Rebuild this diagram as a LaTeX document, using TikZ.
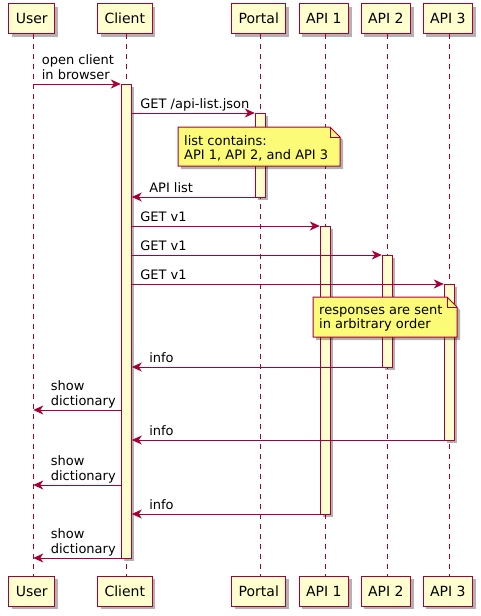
\documentclass[tikz,border=0pt]{standalone}
\usepackage{fontspec}
\setmainfont{DejaVu Sans}
\usetikzlibrary{arrows.meta,shadows}
\definecolor{umlred}{HTML}{A80036}
\definecolor{umlcream}{HTML}{FEFECE}
\definecolor{umlnote}{HTML}{FBFB77}

\begin{document}
\begin{tikzpicture}[
  x=1pt, y=-1pt,
  every node/.append style={font=\fontsize{13}{14.5}\selectfont},
  boxshadow/.style={drop shadow={shadow xshift=3pt, shadow yshift=-3pt,
    opacity=0.3, fill=black}},
  actor/.style={draw=umlred, fill=umlcream, line width=1pt, minimum height=30pt,
    inner xsep=7pt, inner ysep=0pt, font=\fontsize{14}{16}\selectfont, boxshadow},
  life/.style={draw=umlred, line width=1pt, dash pattern=on 5pt off 5pt},
  actbar/.style={draw=umlred, fill=umlcream, line width=1pt, minimum width=10pt,
    inner sep=0pt, boxshadow},
  msg/.style={draw=umlred, line width=1pt,
    -{Stealth[length=10pt, width=9pt, inset=3pt]}},
  msgtext/.style={anchor=base west, inner sep=0pt, align=left},
  note/.style={draw=umlred, fill=umlnote, line width=1pt},
  notetext/.style={anchor=north west, inner sep=0pt, align=left},
]
\useasboundingbox (0,0) rectangle (481,616);

% ------------------------------------------------------ the participants
% Same box at the head and at the foot, dashed lifeline between them.
% The boxes sit a little left of their lifeline, as in the original.
\foreach \who/\x/\txt in {user/33.3/User, client/126.3/Client,
    portal/260.3/Portal, apione/325.3/API 1, apitwo/387.3/API 2,
    apithree/449.3/API 3}{
  \coordinate (\who-line) at (\x,0);
  \node[actor] (\who-top) at (\x-1.5,18.5) {\txt};
  \node[actor] (\who-bot) at (\x-1.5,591) {\txt};
  \draw[life] (\who-top.south -| \who-line) -- (\who-bot.north -| \who-line);
}

% ------------------------------------------------------ the activations
\foreach \who/\ya/\yb in {client/84/558, portal/113/197, apione/226/514,
    apitwo/255/367, apithree/284/440}{
  \node[actbar, minimum height={\yb pt-\ya pt}]
    (\who-bar) at (\who-line |- 0,{(\ya+\yb)/2}) {};
}

% ------------------------------------------------------------ the rows
\foreach \row/\y in {open/84, getlist/113, apilist/197, getone/226,
    gettwo/255, getthree/284, infotwo/367, showtwo/410, infothree/440,
    showthree/485, infoone/514, showone/558}{
  \coordinate (\row) at (0,\y);
}

% ------------------------------------------------------------ the calls
% Requests go right, text starts just past the tail.
\foreach \src/\dst/\row/\txt in {user-line/client-bar.west/open/{open client\\in browser},
    client-bar.east/portal-bar.west/getlist/{GET /api-list.json},
    client-bar.east/apione-bar.west/getone/{GET v1},
    client-bar.east/apitwo-bar.west/gettwo/{GET v1},
    client-bar.east/apithree-bar.west/getthree/{GET v1}}{
  \draw[msg] (\src|-\row) -- (\dst|-\row)
    node[msgtext, at start, xshift=8pt, yshift=5pt] {\txt};
}

% Replies go left, text starts just past the head.
\foreach \src/\dst/\row/\txt in {portal-bar.west/client-bar.east/apilist/{API list},
    apitwo-bar.west/client-bar.east/infotwo/{info},
    client-bar.west/user-line/showtwo/{show\\dictionary},
    apithree-bar.west/client-bar.east/infothree/{info},
    client-bar.west/user-line/showthree/{show\\dictionary},
    apione-bar.west/client-bar.east/infoone/{info},
    client-bar.west/user-line/showone/{show\\dictionary}}{
  \draw[msg] (\src|-\row) -- (\dst|-\row)
    node[msgtext, at end, xshift=17pt, yshift=5pt] {\txt};
}

% ------------------------------------------------------------ the notes
\coordinate (listnote) at (178,127);
\filldraw[note, boxshadow] (listnote) -- ++(152,0) -- ++(10,10) -- ++(0,29)
  -- ++(-162,0) -- cycle;
\draw[note, fill=none] ([xshift=152pt]listnote) -- ++(0,10) -- ++(10,0);
\node[notetext] (listtext) at ([shift={(6,8)}]listnote)
  {list contains:\\API 1, API 2, and API 3};

\coordinate (ordernote) at (313,297);
\filldraw[note, boxshadow] (ordernote) -- ++(134,0) -- ++(10,10) -- ++(0,30)
  -- ++(-144,0) -- cycle;
\draw[note, fill=none] ([xshift=134pt]ordernote) -- ++(0,10) -- ++(10,0);
\node[notetext] (ordertext) at ([shift={(6,8)}]ordernote)
  {responses are sent\\in arbitrary order};

\end{tikzpicture}
\end{document}
